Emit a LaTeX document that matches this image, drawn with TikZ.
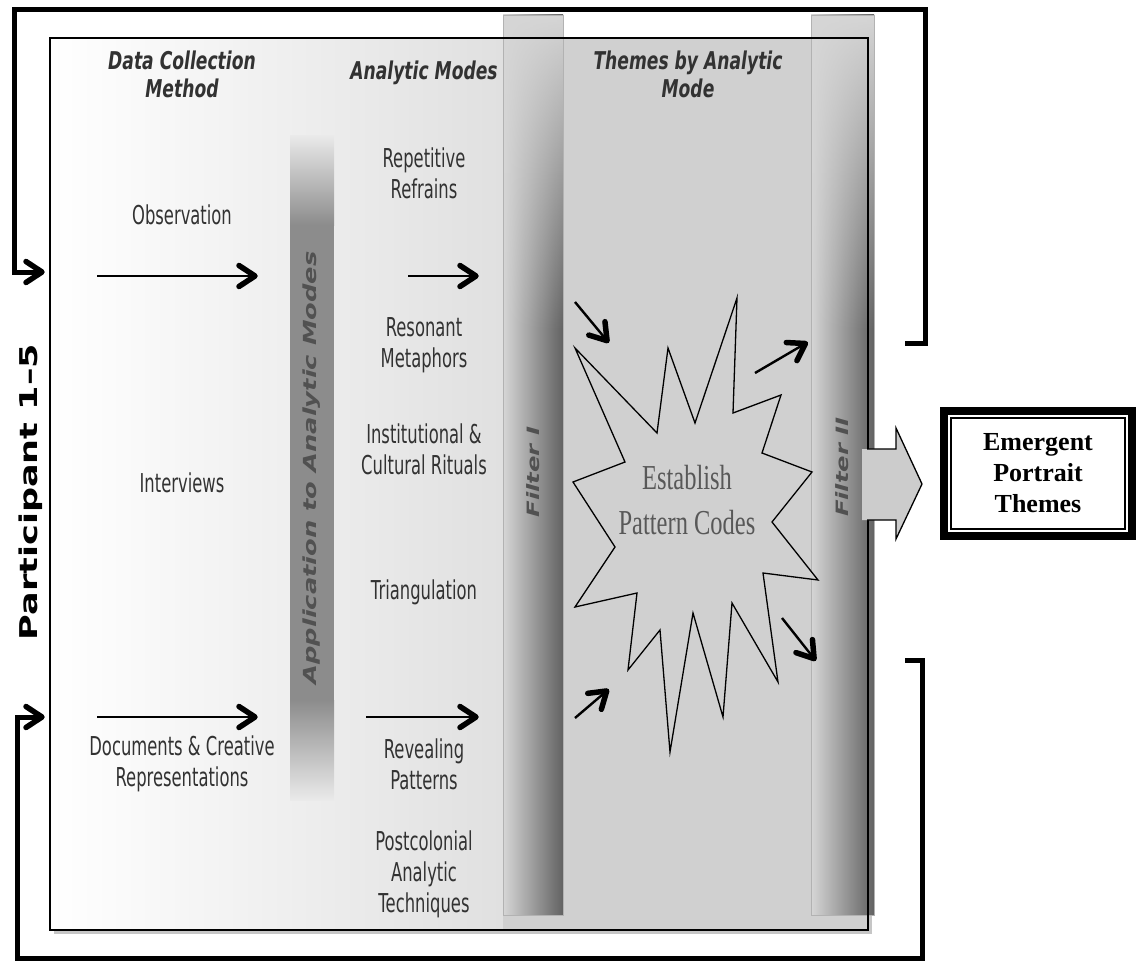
\documentclass[tikz,border=0pt]{standalone}
\usepackage{fontspec}
\usetikzlibrary{arrows.meta,calc,positioning,fadings}
\newfontfamily\bodyfont[FakeStretch=0.63]{DejaVu Sans}
\newfontfamily\headfont[FakeStretch=0.7]{DejaVu Sans}
\newfontfamily\sidefont[FakeStretch=1.43]{DejaVu Sans}
\newfontfamily\codefont[FakeStretch=0.7]{Liberation Serif}
\newfontfamily\boxfont{Liberation Serif}
\definecolor{leftfill}{RGB}{224,224,224}
\definecolor{themefill}{RGB}{208,208,208}
\definecolor{barlight}{RGB}{214,214,214}
\definecolor{bardark}{RGB}{98,98,98}
\definecolor{appedge}{RGB}{234,234,234}
\definecolor{appdark}{RGB}{140,140,140}
\definecolor{labelgray}{RGB}{50,50,50}
\definecolor{codegray}{RGB}{88,88,88}
\definecolor{arrowfill}{RGB}{204,204,204}

% Thick open chevron tip
\pgfdeclarearrow{
  name = Chevron,
  setup code = {
    \pgfarrowssettipend{0pt}
    \pgfarrowssetlineend{-3pt}
    \pgfarrowsupperhullpoint{-22pt}{13.5pt}
    \pgfarrowsupperhullpoint{0pt}{0pt}
  },
  drawing code = {
    \pgfsetlinewidth{5.5pt}
    \pgfsetroundcap
    \pgfsetroundjoin
    \pgfsetdash{}{0pt}
    \pgfpathmoveto{\pgfpoint{-19pt}{10.5pt}}
    \pgfpathlineto{\pgfpoint{-3pt}{0pt}}
    \pgfpathlineto{\pgfpoint{-19pt}{-10.5pt}}
    \pgfusepathqstroke
  }
}

\begin{document}
\begin{tikzpicture}[
  x=1pt, y=-1pt,
  modetext/.style={
    text=labelgray,
    font=\bodyfont\fontsize{26}{31}\selectfont,
    align=center,
    inner sep=0pt
  },
  heading/.style={
    text=labelgray,
    font=\headfont\bfseries\itshape\fontsize{24.5}{28}\selectfont,
    align=center,
    inner sep=0pt
  },
  sidetext/.style={
    rotate=90,
    text=labelgray!85!white,
    font=\sidefont\bfseries\itshape\fontsize{18}{20}\selectfont,
    inner sep=0pt
  },
  filtertext/.style={sidetext,font=\sidefont\bfseries\itshape\fontsize{17}{20}\selectfont},
  participant/.style={
    rotate=90,
    text=black,
    font=\sidefont\bfseries\fontsize{24.5}{28}\selectfont,
    inner sep=0pt
  },
  codetext/.style={
    text=codegray,
    font=\codefont\fontsize{35}{45}\selectfont,
    align=center,
    inner sep=0pt
  },
  portrait/.style={
    draw=black,
    line width=8pt,
    fill=white,
    minimum width=188pt,
    minimum height=125pt,
    align=center,
    font=\boxfont\bfseries\fontsize{26}{31}\selectfont
  },
  flow/.style={
    draw=black,
    line width=2.4pt,
    -Chevron
  },
  loopline/.style={
    flow,
    line width=5pt,
    line join=miter
  }
]

\useasboundingbox (0,0) rectangle (1136,966);
\fill[white] (0,0) rectangle (1136,966);

% Panel backdrop
\fill[gray!45] (54,41) rectangle (872,934);
\shade[left color=white,right color=leftfill] (50,38) rectangle (503,930);
\fill[themefill] (503,38) rectangle (868,930);

% Application bar
\shade[top color=appedge,bottom color=appdark] (290,135) rectangle (334,225);
\fill[appdark] (290,225) rectangle (334,700);
\shade[top color=appdark,bottom color=appedge] (290,700) rectangle (334,800);

% Filter bars
\shade[left color=barlight,right color=bardark] (503,15) rectangle (563,915);
\shade[left color=barlight,right color=bardark] (811,15) rectangle (874,915);
\fill[barlight,path fading=south] (503,15) rectangle (563,330);
\fill[barlight,path fading=south] (811,15) rectangle (874,330);
\draw[gray!60,line width=0.5pt] (503,15) rectangle (563,915);
\draw[gray!60,line width=0.5pt] (811,15) rectangle (874,915);

\draw[black,line width=1.6pt] (50,38) rectangle (868,930);

% Column headings
\node[heading] (collect-head) at (182,74) {Data Collection\\Method};
\node[heading] (modes-head) at (424,73) {Analytic Modes};
\node[heading] (themes-head) at (688,74) {Themes by Analytic\\Mode};

% Data collection methods
\node[modetext] (observation) at (182,215) {Observation};
\node[modetext] (interviews) at (182,483) {Interviews};
\node[modetext] (documents) at (182,764) {Documents \& Creative\\Representations};

% Analytic modes
\node[modetext] (refrains) at (424,173) {Repetitive\\Refrains};
\node[modetext] (metaphors) at (424,345) {Resonant\\Metaphors};
\node[modetext] (rituals) at (424,449) {Institutional \&\\Cultural Rituals};
\node[modetext] (triangulation) at (424,592) {Triangulation};
\node[modetext] (patterns) at (424,764) {Revealing\\Patterns};
\node[modetext] (postcolonial) at (424,874) {Postcolonial\\Analytic\\Techniques};

\node[sidetext] (application) at (312,468) {Application to Analytic Modes};
\node[filtertext] (filter-one) at (533,472) {Filter I};
\node[filtertext] (filter-two) at (842,467) {Filter II};

% Pattern code burst
\draw[black,line width=1.3pt,fill=themefill,line join=miter]
  (575,348) -- (657,433) -- (668,348) -- (695,423) -- (737,298) --
  (733,413) -- (781,395) -- (762,453) -- (812,472) -- (772,522) --
  (818,580) -- (763,573) -- (778,682) -- (732,603) -- (723,717) --
  (693,613) -- (670,752) -- (660,630) -- (628,670) -- (637,593) --
  (575,607) -- (615,547) -- (573,482) -- (625,462) -- cycle;
\node[codetext] (codes) at (687,500) {Establish\\Pattern Codes};

% Arrow end points
\coordinate (obs-from) at (97,276);
\coordinate (obs-to) at (258,276);
\coordinate (doc-from) at (97,717);
\coordinate (doc-to) at (258,717);
\coordinate (ref-from) at (408,276);
\coordinate (ref-to) at (479,276);
\coordinate (rev-from) at (366,717);
\coordinate (rev-to) at (479,717);
\coordinate (in-upper-from) at (575,302);
\coordinate (in-upper-to) at (609,343);
\coordinate (in-lower-from) at (575,718);
\coordinate (in-lower-to) at (609,689);
\coordinate (out-upper-from) at (755,373);
\coordinate (out-upper-to) at (808,342);
\coordinate (out-lower-from) at (782,618);
\coordinate (out-lower-to) at (816,661);

\draw[flow] (obs-from) -- (obs-to);
\draw[flow] (doc-from) -- (doc-to);
\draw[flow] (ref-from) -- (ref-to);
\draw[flow] (rev-from) -- (rev-to);
\draw[flow] (in-upper-from) -- (in-upper-to);
\draw[flow] (in-lower-from) -- (in-lower-to);
\draw[flow] (out-upper-from) -- (out-upper-to);
\draw[flow] (out-lower-from) -- (out-lower-to);

% Output arrow and result
\fill[arrowfill] (862,449) -- (896,449) -- (896,428) -- (922,484) --
  (896,539) -- (896,520) -- (862,520) -- cycle;
\draw[black,line width=1.3pt,line join=miter] (867,449) -- (896,449) --
  (896,428) -- (922,484) -- (896,539) -- (896,520) -- (867,520);

\node[portrait] (portrait) at (1038,473.5) {Emergent\\Portrait\\Themes};
\draw[black,line width=1.5pt]
  ([shift={(11,11)}]portrait.north west) rectangle
  ([shift={(-11,-11)}]portrait.south east);

% Loops back to the participants
\coordinate (top-stub) at (905,343);
\coordinate (top-entry) at (45,272);
\coordinate (bottom-stub) at (905,660);
\coordinate (bottom-entry) at (45,717);

\draw[loopline] (top-stub) -- ++(20,0) |- (14,10) |- (top-entry);
\draw[loopline] (bottom-stub) -- ++(17,0) |- (17,958) |- (bottom-entry);

\node[participant] (participants) at (31,492) {Participant 1–5};

\end{tikzpicture}
\end{document}
